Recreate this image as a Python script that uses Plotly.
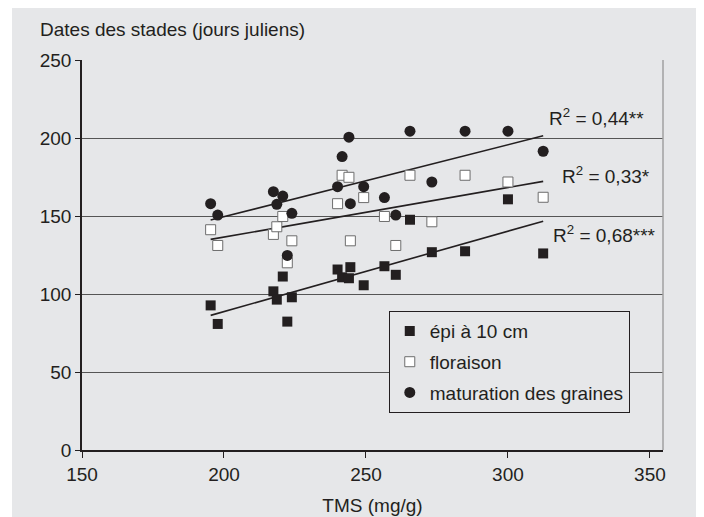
import plotly.graph_objects as go

# ---- data ----
tms = [195.3, 197.8, 217.4, 218.6, 220.7, 222.3, 223.9, 240.0, 241.6, 244.0,
       244.5, 249.2, 256.5, 260.5, 265.5, 273.2, 284.9, 300.0, 312.4]
epi = [92.7, 80.8, 101.7, 96.4, 111.2, 82.3, 97.9, 115.7, 110.7, 110.1,
       117.2, 105.6, 117.8, 112.3, 147.6, 126.8, 127.4, 160.7, 126.0]
flor = [141.2, 131.1, 138.2, 143.1, 149.7, 120.0, 134.1, 157.9, 176.1, 174.8,
        134.1, 161.8, 149.7, 131.1, 176.1, 146.3, 176.1, 171.8, 162.0]
mat = [157.9, 150.6, 165.6, 157.5, 162.8, 124.7, 151.7, 168.8, 188.1, 200.5,
       157.9, 168.8, 161.8, 150.6, 204.4, 171.8, 204.4, 204.4, 191.5]

fit_x = [195.3, 312.4]
fit_epi = [86.3, 146.7]
fit_flor = [135.0, 172.2]
fit_mat = [147.4, 201.4]

series_names = ["épi à 10 cm", "floraison", "maturation des graines"]
r2_labels = ["R<sup>2</sup> = 0,68***", "R<sup>2</sup> = 0,33*", "R<sup>2</sup> = 0,44**"]
r2_x = [315.1, 318.3, 313.7]
r2_y = [138.2, 176.1, 213.4]

x_ticks = [150, 200, 250, 300, 350]
y_ticks = [0, 50, 100, 150, 200, 250]

BLACK = "#231f20"
BG = "#e6e7e9"
FONT = "Liberation Sans, Arial, sans-serif"
FS = 19

fig = go.Figure()

# regression lines
for fy in (fit_epi, fit_flor, fit_mat):
    fig.add_trace(go.Scatter(x=fit_x, y=fy, mode="lines",
                             line=dict(color=BLACK, width=1.6),
                             showlegend=False, hoverinfo="skip"))

fig.add_trace(go.Scatter(x=tms, y=epi, mode="markers", name=series_names[0],
                         legendgroup="a",
                         marker=dict(symbol="square", size=10, color=BLACK,
                                     line=dict(width=0))))
fig.add_trace(go.Scatter(x=tms, y=flor, mode="markers", name=series_names[1],
                         legendgroup="b",
                         marker=dict(symbol="square", size=10, color="white",
                                     line=dict(width=1, color="#6d6d6d"))))
fig.add_trace(go.Scatter(x=tms, y=mat, mode="markers", name=series_names[2],
                         legendgroup="c",
                         marker=dict(symbol="circle", size=11, color=BLACK,
                                     line=dict(width=0))))

for t, xx, yy in zip(r2_labels, r2_x, r2_y):
    fig.add_annotation(x=xx, y=yy, xref="x", yref="y", text=t, showarrow=False,
                       xanchor="left", yanchor="middle",
                       font=dict(size=FS, color=BLACK, family=FONT))

fig.add_annotation(x=-0.075, y=1.077, xref="paper", yref="paper",
                   text="Dates des stades (jours juliens)", showarrow=False,
                   xanchor="left", yanchor="middle",
                   font=dict(size=FS, color=BLACK, family=FONT))

# white strip at the left of the grey panel
fig.add_shape(type="rect", xref="paper", yref="paper", x0=-0.3, x1=-0.1205,
              y0=-0.3, y1=1.3, fillcolor="white", line=dict(width=0), layer="below")
# right border of the plot
fig.add_shape(type="line", xref="paper", yref="paper", x0=1, x1=1, y0=0, y1=1,
              line=dict(color="#a0a0a0", width=1.5))

fig.update_layout(
    width=696, height=509,
    margin=dict(l=74, r=41, t=52, b=67, autoexpand=False),
    paper_bgcolor=BG, plot_bgcolor=BG,
    font=dict(family=FONT, size=FS, color=BLACK),
    legend=dict(x=0.528, y=0.356, xanchor="left", yanchor="top",
                bgcolor=BG, bordercolor=BLACK, borderwidth=1,
                traceorder="grouped", tracegroupgap=3,
                font=dict(size=FS, family=FONT, color=BLACK)),
    xaxis=dict(range=[150, 354.6], tickvals=x_ticks, ticks="outside", ticklen=6,
               tickcolor=BLACK, showline=True, linecolor=BLACK, linewidth=1.5,
               showgrid=False, zeroline=False, automargin=False,
               title=dict(text="TMS (mg/g)", standoff=15,
                          font=dict(size=FS, family=FONT, color=BLACK))),
    yaxis=dict(range=[0, 250], tickvals=y_ticks, ticks="outside", ticklen=5,
               tickcolor=BLACK, showline=True, linecolor=BLACK, linewidth=1.5,
               showgrid=True, gridcolor="#555555", gridwidth=1.2,
               zeroline=False, automargin=False),
    showlegend=True,
)

fig.write_html("out.html")
